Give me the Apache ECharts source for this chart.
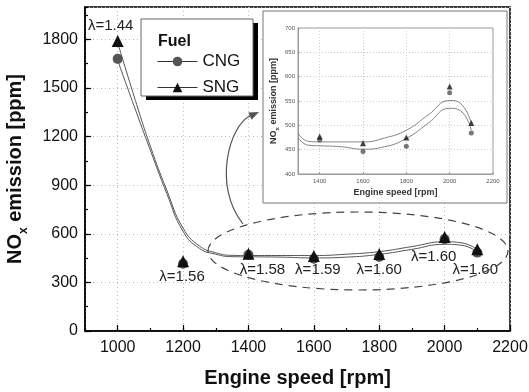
<!DOCTYPE html>
<html>
<head>
<meta charset="utf-8">
<script src="https://cdn.jsdelivr.net/npm/echarts@6/dist/echarts.min.js"></script>
<style>
html, body { margin: 0; padding: 0; background: #fff; }
#chart { width: 529px; height: 392px; }
</style>
</head>
<body>
<div id="chart"></div>
<script>
// measured points
var rpm = [1000, 1200, 1400, 1600, 1800, 2000, 2100];
var cngNox = [1680, 415, 470, 446, 457, 567, 484];
var sngNox = [1790, 430, 477, 463, 475, 580, 505];
var lambdaVals = ['1.44', '1.56', '1.58', '1.59', '1.60', '1.60', '1.60'];

// fitted curves
var fitRpm = [1000, 1050, 1100, 1150, 1200, 1250, 1300, 1350, 1400, 1500, 1600, 1700, 1800, 1900, 2000, 2050, 2100];
var cngFit = [1670, 1390, 1115, 850, 615, 510, 474, 459, 458, 456, 451, 456, 473, 504, 535, 530, 490];
var sngFit = [1780, 1450, 1140, 870, 635, 525, 483, 467, 466, 466, 466, 474, 490, 521, 551, 545, 504];

// label offsets (px) for the lambda notes, same order as rpm
var lambdaOffsets = [[-7, -15], [-1, 16], [14, 16], [4, 14], [0, 16], [-11, 20], [-2, 21]];

var font = 'Liberation Sans, Arial, sans-serif';

function pairs(xs, ys, from) {
    var out = [];
    for (var i = 0; i < xs.length; i++) {
        if (xs[i] >= from) out.push([xs[i], ys[i]]);
    }
    return out;
}
function plain(v) { return String(v); }

var sngData = [];
for (var i = 0; i < rpm.length; i++) {
    sngData.push({
        value: [rpm[i], sngNox[i]],
        label: {
            show: true,
            position: 'inside',
            offset: lambdaOffsets[i],
            formatter: '\u03bb=' + lambdaVals[i],
            color: '#222',
            fontSize: 15,
            fontFamily: font
        }
    });
}

var chart = echarts.init(document.getElementById('chart'));

var option = {
    animation: false,
    backgroundColor: '#fff',
    textStyle: { fontFamily: font },
    grid: [
        { left: 85, right: 19, top: 7, bottom: 61, show: true, borderColor: '#000', borderWidth: 1.5, outerBoundsMode: 'none', z: 0 },
        { left: 298, top: 28, width: 195, height: 146, show: true, borderColor: '#999', borderWidth: 1, outerBoundsMode: 'none', z: 3 }
    ],
    legend: {
        data: ['CNG', 'SNG'],
        orient: 'vertical',
        left: 157,
        top: 53,
        padding: 0,
        itemWidth: 40,
        itemHeight: 12,
        itemGap: 9,
        z: 6,
        lineStyle: { color: '#333', width: 1, opacity: 1 },
        textStyle: { fontSize: 17, color: '#111', fontFamily: font }
    },
    xAxis: [
        {
            gridIndex: 0, type: 'value', min: 900, max: 2200, splitNumber: 6,
            name: 'Engine speed [rpm]', nameLocation: 'middle', nameGap: 37,
            nameTextStyle: { fontSize: 20, fontWeight: 'bold', color: '#111', fontFamily: font },
            axisLine: { lineStyle: { color: '#000', width: 1.5 } },
            axisTick: { inside: true, length: 6, lineStyle: { color: '#000', width: 1.2 } },
            axisLabel: { showMinLabel: false, fontSize: 16, color: '#111', margin: 9, fontFamily: font, formatter: plain },
            splitLine: { show: true, lineStyle: { color: '#bbb', type: [1, 3] } }
        },
        {
            gridIndex: 0, type: 'value', min: 900, max: 2200, interval: 100, position: 'bottom',
            axisLine: { show: false },
            axisTick: { inside: true, length: 3, lineStyle: { color: '#000', width: 1.2 } },
            axisLabel: { show: false },
            splitLine: { show: false }
        },
        {
            gridIndex: 1, type: 'value', min: 1300, max: 2200, splitNumber: 5, z: 3,
            name: 'Engine speed [rpm]', nameLocation: 'middle', nameGap: 14,
            nameTextStyle: { fontSize: 9, fontWeight: 'bold', color: '#333', fontFamily: font },
            axisLine: { lineStyle: { color: '#999', width: 1 } },
            axisTick: { inside: true, length: 2, lineStyle: { color: '#999' } },
            axisLabel: { showMinLabel: false, fontSize: 6, color: '#555', margin: 4, fontFamily: font, formatter: plain },
            splitLine: { show: true, lineStyle: { color: '#ccc', type: [1, 2] } }
        }
    ],
    yAxis: [
        {
            gridIndex: 0, type: 'value', min: 0, max: 2000, interval: 300,
            name: 'NO{sub|x} emission [ppm]', nameLocation: 'middle', nameGap: 55, nameRotate: 90,
            nameTextStyle: {
                fontSize: 20, fontWeight: 'bold', color: '#111', fontFamily: font, lineHeight: 22,
                rich: { sub: { fontSize: 12, fontWeight: 'bold', color: '#111', verticalAlign: 'bottom', lineHeight: 30, fontFamily: font } }
            },
            axisLine: { lineStyle: { color: '#000', width: 1.5 } },
            axisTick: { inside: true, length: 6, lineStyle: { color: '#000', width: 1.2 } },
            axisLabel: {
                showMaxLabel: false, fontSize: 16, color: '#111', margin: 7, fontFamily: font,
                formatter: function (v) { return v % 300 === 0 ? String(v) : ''; }
            },
            splitLine: { show: true, lineStyle: { color: '#bbb', type: [1, 3] } }
        },
        {
            gridIndex: 0, type: 'value', min: 0, max: 2000, interval: 150, position: 'left',
            axisLine: { show: false },
            axisTick: { inside: true, length: 3, lineStyle: { color: '#000', width: 1.2 } },
            axisLabel: { show: false },
            splitLine: { show: false }
        },
        {
            gridIndex: 1, type: 'value', min: 400, max: 700, interval: 50, z: 3,
            name: 'NO{sub|x} emission [ppm]', nameLocation: 'middle', nameGap: 18, nameRotate: 90,
            nameTextStyle: {
                fontSize: 9, fontWeight: 'bold', color: '#333', fontFamily: font,
                rich: { sub: { fontSize: 6, fontWeight: 'bold', color: '#333', verticalAlign: 'bottom', lineHeight: 13, fontFamily: font } }
            },
            axisLine: { lineStyle: { color: '#999', width: 1 } },
            axisTick: { inside: true, length: 2, lineStyle: { color: '#999' } },
            axisLabel: { fontSize: 6, color: '#555', margin: 3, fontFamily: font, formatter: plain },
            splitLine: { show: true, lineStyle: { color: '#ccc', type: [1, 2] } }
        }
    ],
    series: [
        {
            name: 'CNG fit', type: 'line', xAxisIndex: 0, yAxisIndex: 0, smooth: 0.5, showSymbol: false, silent: true,
            lineStyle: { color: '#555', width: 1 }, data: pairs(fitRpm, cngFit, 0), z: 2
        },
        {
            name: 'SNG fit', type: 'line', xAxisIndex: 0, yAxisIndex: 0, smooth: 0.5, showSymbol: false, silent: true,
            lineStyle: { color: '#555', width: 1 }, data: pairs(fitRpm, sngFit, 0), z: 2
        },
        {
            name: 'CNG', type: 'line', xAxisIndex: 0, yAxisIndex: 0, symbol: 'circle', symbolSize: 10,
            itemStyle: { color: '#555' }, lineStyle: { opacity: 0 }, data: pairs(rpm, cngNox, 0), z: 3
        },
        {
            name: 'SNG', type: 'line', xAxisIndex: 0, yAxisIndex: 0, symbol: 'triangle', symbolSize: 12,
            itemStyle: { color: '#111' }, lineStyle: { opacity: 0 }, data: sngData, z: 4
        },
        {
            name: 'CNG fit inset', type: 'line', xAxisIndex: 2, yAxisIndex: 2, smooth: 0.5, showSymbol: false, silent: true,
            lineStyle: { color: '#666', width: 0.8 }, data: pairs(fitRpm, cngFit, 1300), z: 5
        },
        {
            name: 'SNG fit inset', type: 'line', xAxisIndex: 2, yAxisIndex: 2, smooth: 0.5, showSymbol: false, silent: true,
            lineStyle: { color: '#666', width: 0.8 }, data: pairs(fitRpm, sngFit, 1300), z: 5
        },
        {
            name: 'CNG inset', type: 'scatter', xAxisIndex: 2, yAxisIndex: 2, symbol: 'circle', symbolSize: 5,
            itemStyle: { color: '#555' }, data: pairs(rpm, cngNox, 1400), z: 5
        },
        {
            name: 'SNG inset', type: 'scatter', xAxisIndex: 2, yAxisIndex: 2, symbol: 'triangle', symbolSize: 6,
            itemStyle: { color: '#111' }, data: pairs(rpm, sngNox, 1400), z: 6
        }
    ],
    graphic: [
        // inset frame
        { type: 'rect', z: 1, shape: { x: 263, y: 11, width: 244, height: 192 }, style: { fill: '#fff', stroke: '#777', lineWidth: 1 } },
        // legend box with shadow
        { type: 'rect', z: 3, shape: { x: 146, y: 23, width: 112, height: 77 }, style: { fill: '#000' } },
        { type: 'rect', z: 3, shape: { x: 141, y: 19, width: 112, height: 77 }, style: { fill: '#fff', stroke: '#666', lineWidth: 1 } },
        { type: 'text', z: 6, x: 158, y: 42, style: { text: 'Fuel', font: 'bold 16px ' + font, fill: '#111', verticalAlign: 'middle' } },
        // dashed region around the flat part
        { type: 'ellipse', z: 5, shape: { cx: 358, cy: 251, rx: 150, ry: 39 }, style: { fill: 'none', stroke: '#444', lineWidth: 1.2, lineDash: [8, 6] } },
        // arrow to inset
        { type: 'bezierCurve', z: 5, shape: { x1: 243, y1: 224, cpx1: 212, cpy1: 185, cpx2: 230, cpy2: 125, x2: 250, y2: 116 }, style: { fill: 'none', stroke: '#555', lineWidth: 1.2 } },
        { type: 'polygon', z: 5, shape: { points: [[259, 112], [251.5, 119.7], [248.3, 112.5]] }, style: { fill: '#555' } }
    ]
};

chart.setOption(option);
</script>
</body>
</html>
